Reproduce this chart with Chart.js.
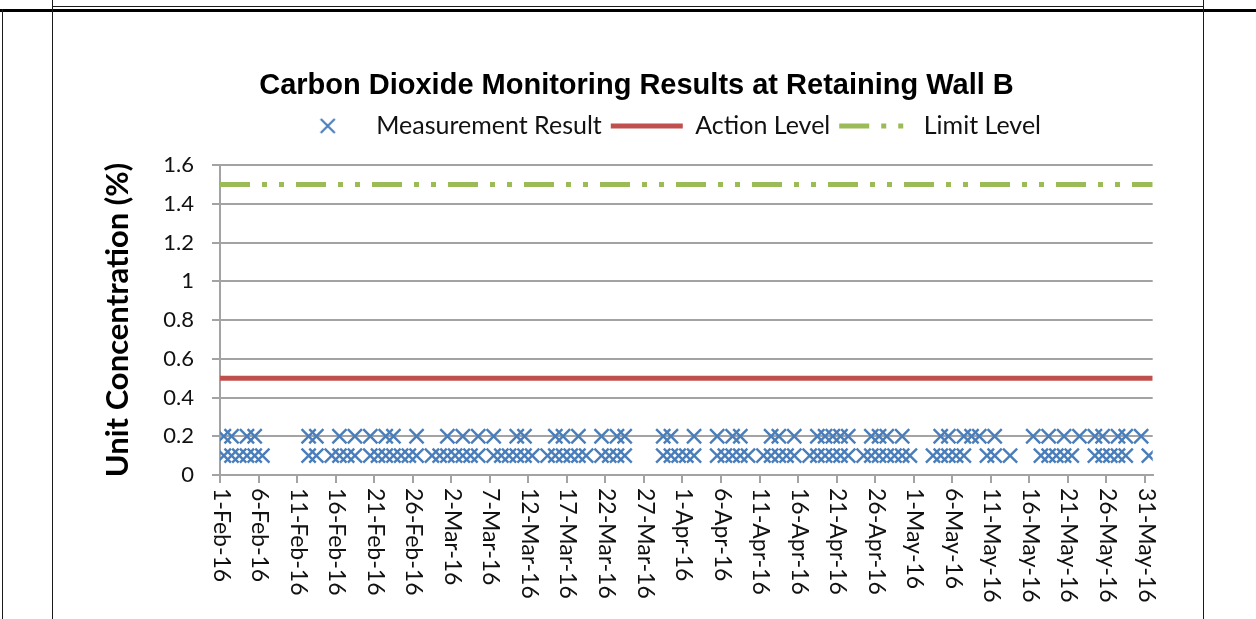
<!DOCTYPE html>
<html>
<head>
<meta charset="utf-8">
<script src="https://cdn.jsdelivr.net/npm/chart.js@4.4.1/dist/chart.umd.min.js"></script>
<style>
  html, body { margin: 0; padding: 0; background: #fff; }
  body { width: 1256px; height: 619px; overflow: hidden; position: relative; }
  .ln { position: absolute; background: #1a1a1a; }
  #c { position: absolute; left: 60px; top: 12px; }
</style>
</head>
<body>
<div class="ln" style="left:52px;top:6px;width:1152px;height:1px;"></div>
<div class="ln" style="left:0;top:9px;width:1256px;height:3px;background:#000;"></div>
<div class="ln" style="left:2px;top:9px;width:1px;height:610px;"></div>
<div class="ln" style="left:52px;top:0;width:1px;height:619px;"></div>
<div class="ln" style="left:1203px;top:0;width:1px;height:619px;"></div>
<canvas id="c" width="1153" height="607"></canvas>
<script>
// ---------------- data ----------------
const chartTitle = 'Carbon Dioxide Monitoring Results at Retaining Wall B';
const yAxisTitle = 'Unit Concentration (%)';
const seriesNames = ['Measurement Result', 'Action Level', 'Limit Level'];
const year = 2016;
const monthNames = ['Jan','Feb','Mar','Apr','May','Jun','Jul','Aug','Sep','Oct','Nov','Dec'];
const axisStart = '1-Feb';
const axisEnd = '1-Jun';
const tickStepDays = 5;
const sampleTimeOfDay = 0.5;           // measurements taken around midday
// dates with a reading of 0.2 %
const readingsAt02 = ['1-Feb','2-Feb','4-Feb','5-Feb','12-Feb','13-Feb','16-Feb','18-Feb','20-Feb','22-Feb','23-Feb','26-Feb',
  '1-Mar','3-Mar','5-Mar','7-Mar','10-Mar','11-Mar','15-Mar','16-Mar','18-Mar','21-Mar','23-Mar','24-Mar','29-Mar','30-Mar',
  '2-Apr','5-Apr','7-Apr','8-Apr','12-Apr','13-Apr','15-Apr','18-Apr','19-Apr','20-Apr','21-Apr','22-Apr','25-Apr','26-Apr','27-Apr','29-Apr',
  '4-May','5-May','7-May','8-May','9-May','11-May','16-May','18-May','20-May','22-May','24-May','25-May','27-May','28-May','30-May'];
// dates with a reading of 0.1 %
const readingsAt01 = ['1-Feb','2-Feb','3-Feb','4-Feb','5-Feb','6-Feb','12-Feb','13-Feb','15-Feb','16-Feb','17-Feb','18-Feb','20-Feb','21-Feb','22-Feb','23-Feb','24-Feb','25-Feb','26-Feb','28-Feb','29-Feb',
  '1-Mar','2-Mar','3-Mar','4-Mar','5-Mar','7-Mar','8-Mar','9-Mar','10-Mar','11-Mar','12-Mar','14-Mar','15-Mar','16-Mar','17-Mar','18-Mar','19-Mar','21-Mar','22-Mar','23-Mar','24-Mar','29-Mar','30-Mar','31-Mar',
  '1-Apr','2-Apr','5-Apr','6-Apr','7-Apr','8-Apr','9-Apr','11-Apr','12-Apr','13-Apr','14-Apr','15-Apr','17-Apr','18-Apr','19-Apr','20-Apr','21-Apr','22-Apr','24-Apr','25-Apr','26-Apr','27-Apr','28-Apr','29-Apr','30-Apr',
  '3-May','4-May','5-May','6-May','7-May','10-May','11-May','13-May','17-May','18-May','19-May','20-May','21-May','24-May','25-May','26-May','27-May','28-May','31-May'];
const valueHigh = 0.2;
const valueLow = 0.1;
const actionLevel = 0.5;
const limitLevel = 1.5;
const yMin = 0, yMax = 1.6, yStep = 0.2;

// ---------------- helpers ----------------
const DAY = 86400000;
const t0 = Date.UTC(year, monthNames.indexOf(axisStart.split('-')[1]), +axisStart.split('-')[0]);
function dayIndex(s) {
  const [d, m] = s.split('-');
  return (Date.UTC(year, monthNames.indexOf(m), +d) - t0) / DAY;
}
function dayLabel(v) {
  const dt = new Date(t0 + Math.round(v) * DAY);
  return dt.getUTCDate() + '-' + monthNames[dt.getUTCMonth()] + '-' + String(year).slice(2);
}
const xMin = dayIndex(axisStart), xMax = dayIndex(axisEnd);

const measurementPoints = [
  ...readingsAt02.map(s => ({x: dayIndex(s) + sampleTimeOfDay, y: valueHigh})),
  ...readingsAt01.map(s => ({x: dayIndex(s) + sampleTimeOfDay, y: valueLow}))
];
const actionPoints = [{x: xMin, y: actionLevel}, {x: xMax, y: actionLevel}];
const limitPoints = [{x: xMin, y: limitLevel}, {x: xMax, y: limitLevel}];

// ---------------- styles ----------------
const BLUE = '#4a7ebb', RED = '#c0504d', GREEN = '#9bbb59', GRID = '#a3a3a3', TXT = '#111111';
const FONT = 'Lato, "Open Sans", sans-serif';
const limitDash = [30, 12, 5, 12, 5, 12];   // long dash - dot - dot

// small x glyph used as the legend symbol of the measurement series
const legendCross = document.createElement('canvas');
legendCross.width = 18; legendCross.height = 18;
(function () {
  const g = legendCross.getContext('2d');
  g.strokeStyle = BLUE; g.lineWidth = 2.2;
  g.beginPath();
  g.moveTo(2, 2); g.lineTo(16, 16);
  g.moveTo(16, 2); g.lineTo(2, 16);
  g.stroke();
})();

const rotatedXLabels = {
  id: 'rotatedXLabels',
  afterDraw(chart) {
    const xs = chart.scales.x;
    const ctx = chart.ctx;
    ctx.save();
    ctx.font = '23px ' + FONT;
    ctx.fillStyle = TXT;
    ctx.textAlign = 'left';
    ctx.textBaseline = 'middle';
    xs.ticks.forEach(t => {
      const px = xs.getPixelForValue(t.value);
      ctx.save();
      ctx.translate(px + 1, xs.top + 13);
      ctx.rotate(Math.PI / 2);
      ctx.fillText(t.label, 0, 0);
      ctx.restore();
    });
    ctx.restore();
  }
};

// Excel placed its legend a little left of the plot centre
const legendNudge = {
  id: 'legendNudge',
  afterLayout(chart) {
    const l = chart.legend;
    if (l) { l.left -= 20; l.right -= 20; }
  }
};

new Chart(document.getElementById('c'), {
  type: 'scatter',
  data: {
    datasets: [
      {
        label: seriesNames[0],
        data: measurementPoints,
        pointStyle: 'crossRot',
        pointRadius: 10,
        pointHoverRadius: 10,
        pointBorderWidth: 2.4,
        borderColor: BLUE,
        backgroundColor: BLUE
      },
      {
        label: seriesNames[1],
        data: actionPoints,
        showLine: true,
        borderColor: RED,
        backgroundColor: RED,
        borderWidth: 5,
        pointRadius: 0,
        pointHoverRadius: 0,
        pointStyle: 'line'
      },
      {
        label: seriesNames[2],
        data: limitPoints,
        showLine: true,
        borderColor: GREEN,
        backgroundColor: GREEN,
        borderWidth: 5,
        borderDash: limitDash,
        borderCapStyle: 'butt',
        pointRadius: 0,
        pointHoverRadius: 0,
        pointStyle: 'line'
      }
    ]
  },
  options: {
    responsive: false,
    animation: false,
    events: [],
    layout: { padding: 0 },
    plugins: {
      tooltip: { enabled: false },
      title: {
        display: true,
        text: chartTitle,
        color: '#000',
        font: { family: '"Liberation Sans", Arial, sans-serif', size: 29, weight: 'bold', lineHeight: 1.2 },
        padding: { top: 56.6, bottom: 1 }
      },
      legend: {
        display: true,
        position: 'top',
        fullSize: false,
        labels: {
          color: TXT,
          font: { family: FONT, size: 25 },
          usePointStyle: true,
          pointStyleWidth: 72,
          boxHeight: 14,
          padding: 9,
          generateLabels(chart) {
            const items = Chart.defaults.plugins.legend.labels.generateLabels(chart);
            items.forEach((it, i) => {
              const ds = chart.data.datasets[it.datasetIndex];
              it.strokeStyle = ds.borderColor;
              it.fillStyle = ds.borderColor;
              if (i === 0) { it.pointStyle = legendCross; it.lineWidth = 2; it.lineDash = []; }
              else { it.pointStyle = ds.pointStyle; it.lineWidth = 5; it.lineDash = ds.borderDash || []; it.lineCap = 'butt'; }
            });
            return items;
          }
        }
      }
    },
    scales: {
      x: {
        type: 'linear',
        position: 'bottom',
        min: xMin,
        max: xMax,
        afterFit(s) { s.height = 144; },
        ticks: {
          stepSize: tickStepDays,
          includeBounds: false,
          display: false,
          callback: v => dayLabel(v)
        },
        grid: { drawOnChartArea: false, drawTicks: true, tickLength: 8, color: GRID, lineWidth: 2 },
        border: { display: true, color: GRID, width: 2 }
      },
      xTop: {
        type: 'linear',
        position: 'top',
        display: true,
        afterFit(s) { s.height = 16.6; },
        ticks: { display: false },
        grid: { display: false, drawTicks: false },
        border: { display: false }
      },
      y: {
        type: 'linear',
        position: 'left',
        min: yMin,
        max: yMax,
        afterFit(s) { s.width = 160; },
        ticks: {
          stepSize: yStep,
          color: TXT,
          padding: 18,
          font: { family: FONT, size: 22 },
          callback: v => String(+v.toFixed(1))
        },
        grid: { color: GRID, lineWidth: 2, drawTicks: true, tickLength: 8 },
        border: { display: true, color: GRID, width: 2 },
        title: {
          display: true,
          text: yAxisTitle,
          color: '#000',
          font: { family: FONT, size: 31, weight: 'bold', lineHeight: 1.2 },
          padding: { top: 39.4, bottom: 0 }
        }
      },
      yRight: {
        type: 'linear',
        position: 'right',
        display: true,
        afterFit(s) { s.width = 60.3; },
        ticks: { display: false },
        grid: { display: false, drawTicks: false },
        border: { display: false }
      }
    }
  },
  plugins: [rotatedXLabels, legendNudge]
});
</script>
</body>
</html>
